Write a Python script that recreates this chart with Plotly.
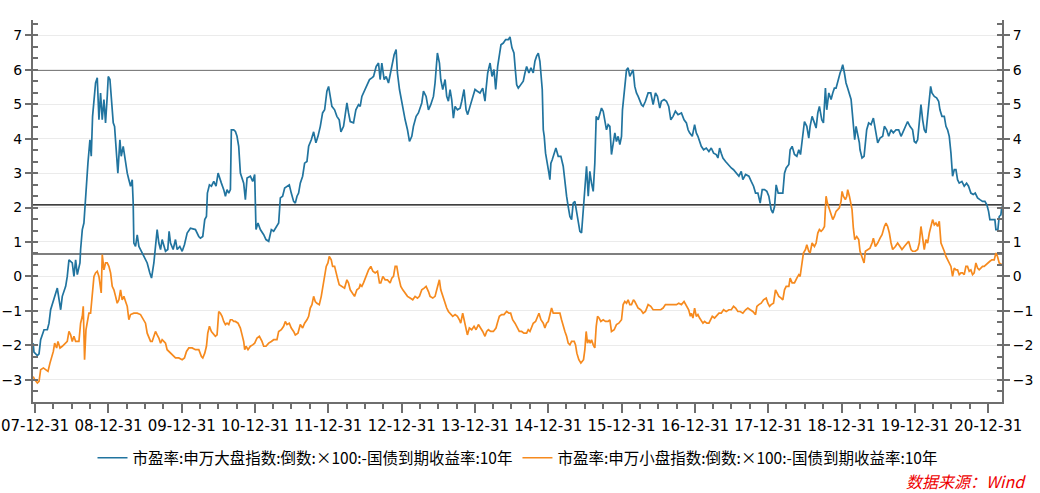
import pandas as pd
import plotly.graph_objects as go

# (decimal year where 2008.0 == 2007-12-31, value)
large_cap = [
(2007.975,-1.94),(2007.986,-2.2),(2008.032,-2.3),(2008.055,-2.25),(2008.077,-1.84),(2008.123,-1.55),(2008.168,-1.55),(2008.191,-1.36),(2008.213,-0.97),(2008.259,-0.68),(2008.304,-0.34),(2008.350,-0.97),(2008.372,-0.58),(2008.418,-0.29),(2008.440,0.0),(2008.463,0.48),(2008.508,0.39),(2008.531,0.0),(2008.554,0.48),(2008.577,0.05),(2008.613,0.39),(2008.622,0.78),(2008.645,1.36),(2008.667,1.55),(2008.681,2.08),(2008.699,2.76),(2008.722,3.3),(2008.749,3.97),(2008.767,3.49),(2008.785,4.65),(2008.804,5.04),(2008.826,5.62),(2008.849,5.77),(2008.872,4.55),(2008.894,5.33),(2008.917,4.55),(2008.940,5.14),(2008.962,4.46),(2008.985,5.23),(2008.999,5.81),(2009.022,5.72),(2009.044,5.14),(2009.067,4.46),(2009.085,4.36),(2009.112,3.49),(2009.130,3.0),(2009.158,3.97),(2009.176,3.49),(2009.203,3.78),(2009.235,3.29),(2009.258,3.0),(2009.280,2.81),(2009.303,2.62),(2009.326,2.81),(2009.339,2.13),(2009.348,0.97),(2009.371,0.87),(2009.394,1.21),(2009.417,0.87),(2009.439,0.78),(2009.485,0.58),(2009.530,0.39),(2009.566,0.1),(2009.589,-0.05),(2009.621,0.39),(2009.643,0.78),(2009.666,1.36),(2009.689,0.97),(2009.712,0.78),(2009.734,1.07),(2009.757,0.92),(2009.780,0.73),(2009.811,0.78),(2009.829,1.31),(2009.848,0.97),(2009.884,0.78),(2009.916,1.07),(2009.939,0.78),(2009.975,0.87),(2010.007,0.73),(2010.038,0.92),(2010.075,1.26),(2010.120,1.4),(2010.166,1.36),
(2010.188,1.36),(2010.233,1.16),(2010.256,1.11),(2010.288,1.16),(2010.315,1.65),(2010.338,1.74),(2010.351,2.42),(2010.379,2.66),(2010.406,2.62),(2010.438,2.76),(2010.469,2.62),(2010.497,3.0),(2010.515,2.86),(2010.542,2.71),(2010.574,2.52),(2010.597,2.33),(2010.619,2.52),(2010.642,2.42),(2010.665,2.52),(2010.678,4.26),(2010.710,4.26),(2010.733,4.21),(2010.755,4.07),(2010.778,3.78),(2010.801,3.0),(2010.824,2.86),(2010.846,2.71),(2010.869,2.23),(2010.892,2.86),(2010.937,2.91),(2010.969,2.76),(2010.996,2.96),(2011.014,1.36),(2011.041,1.55),(2011.073,1.36),(2011.119,1.21),(2011.150,1.07),(2011.187,1.02),(2011.223,1.36),(2011.255,1.31),(2011.300,1.45),(2011.323,1.55),(2011.346,2.28),(2011.377,2.33),(2011.405,2.57),(2011.436,2.62),(2011.468,2.66),(2011.495,2.42),(2011.527,2.18),(2011.550,2.13),(2011.573,2.33),(2011.595,2.42),(2011.618,2.71),(2011.650,2.91),(2011.677,3.29),(2011.709,3.34),(2011.732,3.78),(2011.768,3.97),(2011.800,4.2),(2011.831,3.88),(2011.859,4.07),(2011.891,4.36),(2011.922,4.75),(2011.950,4.84),(2011.981,5.38),(2012.004,5.52),(2012.027,5.14),(2012.049,4.94),(2012.086,4.84),(2012.117,4.65),(2012.149,4.55),(2012.172,4.2),(2012.208,4.36),(2012.231,4.65),(2012.254,5.04),(2012.276,4.75),(2012.299,4.5),(2012.344,4.46),(2012.376,4.84),(2012.412,4.99),
(2012.435,4.94),(2012.458,5.23),(2012.489,5.38),(2012.526,5.52),(2012.562,5.72),(2012.594,5.77),(2012.617,5.81),(2012.653,6.1),(2012.685,6.2),(2012.707,5.72),(2012.730,6.2),(2012.762,5.72),(2012.789,5.81),(2012.821,5.62),(2012.853,5.96),(2012.880,6.25),(2012.898,6.44),(2012.925,6.59),(2012.943,5.91),(2012.971,5.43),(2012.989,5.23),(2013.016,4.84),(2013.048,4.55),(2013.080,4.26),(2013.107,3.92),(2013.139,4.07),(2013.161,4.36),(2013.198,4.65),(2013.229,4.75),(2013.275,5.04),(2013.298,5.38),(2013.334,5.23),(2013.366,4.84),(2013.397,4.99),(2013.434,5.23),(2013.456,5.62),(2013.488,6.49),(2013.516,6.2),(2013.534,5.72),(2013.561,5.43),(2013.593,5.72),(2013.615,5.23),(2013.638,5.09),(2013.661,5.43),(2013.683,5.14),(2013.706,4.6),(2013.729,4.94),(2013.761,4.84),(2013.797,4.89),(2013.820,5.09),(2013.851,5.43),(2013.879,4.84),(2013.901,4.7),(2013.933,4.94),(2013.969,5.23),(2014.001,5.43),(2014.033,5.38),(2014.069,5.33),(2014.106,5.47),(2014.137,5.09),(2014.151,5.43),(2014.174,5.91),(2014.206,6.2),(2014.233,5.81),(2014.260,6.01),(2014.283,5.43),(2014.310,6.1),(2014.333,6.4),(2014.355,6.73),(2014.387,6.78),(2014.419,6.88),(2014.455,6.88),(2014.478,6.96),(2014.505,6.64),(2014.532,6.49),(2014.551,6.0),(2014.569,5.57),(2014.591,5.47),(2014.623,5.57),(2014.659,5.67),(2014.682,5.91),
(2014.705,6.1),(2014.736,5.91),(2014.764,6.06),(2014.795,5.91),(2014.818,6.25),(2014.841,6.4),(2014.864,6.49),(2014.886,6.25),(2014.900,5.96),(2014.918,5.43),(2014.932,4.26),(2014.945,4.07),(2014.963,3.58),(2014.991,3.29),(2015.009,3.0),(2015.022,2.81),(2015.036,3.29),(2015.054,3.39),(2015.082,3.58),(2015.104,3.73),(2015.136,3.49),(2015.172,3.49),(2015.204,3.2),(2015.227,2.71),(2015.250,2.33),(2015.272,2.03),(2015.295,1.74),(2015.318,1.65),(2015.340,2.13),(2015.363,2.18),(2015.386,1.89),(2015.408,1.6),(2015.431,1.31),(2015.454,1.26),(2015.477,1.94),(2015.499,2.33),(2015.522,3.2),(2015.545,2.33),(2015.567,3.05),(2015.590,2.71),(2015.613,2.47),(2015.635,3.29),(2015.654,4.65),(2015.681,4.55),(2015.703,4.75),(2015.726,4.89),(2015.749,4.8),(2015.772,4.46),(2015.794,4.26),(2015.817,4.41),(2015.840,4.36),(2015.862,3.54),(2015.885,3.88),(2015.908,4.17),(2015.930,3.92),(2015.953,4.07),(2015.976,3.83),(2015.999,4.07),(2016.012,4.84),(2016.030,5.23),(2016.044,5.52),(2016.067,6.0),(2016.089,6.06),(2016.112,5.81),(2016.135,5.91),(2016.157,6.0),(2016.180,5.52),(2016.203,5.33),(2016.226,5.23),(2016.248,5.09),(2016.271,4.99),(2016.294,4.94),(2016.325,5.09),(2016.362,5.33),(2016.398,5.33),(2016.430,4.99),(2016.462,5.33),(2016.489,5.23),(2016.521,4.89),(2016.543,5.09),(2016.580,5.14),(2016.612,5.09),(2016.643,4.94),(2016.671,4.55),(2016.702,4.65),(2016.734,4.8),(2016.770,4.7),(2016.816,4.75),(2016.852,4.55),(2016.884,4.46),(2016.907,4.26),
(2016.928,4.17),(2016.964,4.07),(2016.996,4.41),(2017.019,4.17),(2017.041,4.07),(2017.064,3.92),(2017.087,3.78),(2017.119,3.68),(2017.155,3.73),(2017.191,3.63),(2017.223,3.73),(2017.255,3.58),(2017.291,3.54),(2017.314,3.44),(2017.337,3.73),(2017.359,3.58),(2017.382,3.44),(2017.418,3.34),(2017.450,3.25),(2017.496,3.15),(2017.527,3.1),(2017.564,3.0),(2017.600,2.91),(2017.632,3.05),(2017.654,2.81),(2017.691,2.96),(2017.736,2.91),(2017.768,2.76),(2017.800,2.62),(2017.827,2.42),(2017.859,2.42),(2017.890,2.13),(2017.918,2.52),(2017.949,2.52),(2017.981,2.47),(2018.008,2.33),(2018.040,1.94),(2018.063,1.84),(2018.086,2.03),(2018.108,2.66),(2018.136,2.42),(2018.163,2.42),(2018.199,2.42),(2018.222,3.0),(2018.245,3.15),(2018.281,3.25),(2018.299,3.68),(2018.326,3.78),(2018.358,3.54),(2018.390,3.49),(2018.417,3.68),(2018.440,3.54),(2018.462,3.97),(2018.494,4.5),(2018.526,4.36),(2018.553,4.02),(2018.571,4.36),(2018.598,4.65),(2018.630,4.46),(2018.653,4.31),(2018.676,4.75),(2018.698,4.94),(2018.730,4.55),(2018.753,4.46),(2018.780,5.47),(2018.798,4.84),(2018.826,5.33),(2018.857,5.14),(2018.880,5.33),(2018.902,5.47),(2018.925,5.47),(2018.957,5.77),(2018.980,5.91),(2018.998,6.01),(2019.016,6.15),(2019.039,5.91),(2019.061,5.62),(2019.084,5.47),(2019.107,5.33),(2019.130,5.14),(2019.143,4.84),(2019.161,4.26),(2019.179,3.97),(2019.198,4.36),(2019.220,4.17),(2019.243,3.88),
(2019.252,3.68),(2019.279,3.44),(2019.307,3.49),(2019.325,3.97),(2019.343,4.26),(2019.370,4.46),(2019.402,4.41),(2019.434,4.6),(2019.461,4.26),(2019.493,3.88),(2019.525,4.02),(2019.561,4.07),(2019.584,4.36),(2019.615,4.26),(2019.643,4.07),(2019.675,4.26),(2019.706,4.17),(2019.743,4.26),(2019.779,4.26),(2019.811,4.07),(2019.833,4.17),(2019.870,4.36),(2019.901,4.5),(2019.933,4.36),(2019.969,4.26),(2019.992,3.92),(2020.015,3.88),(2020.038,3.97),(2020.060,4.46),(2020.083,4.99),(2020.106,4.55),(2020.128,4.26),(2020.151,4.17),(2020.174,4.65),(2020.197,4.99),(2020.215,5.52),(2020.233,5.33),(2020.265,5.23),(2020.296,5.19),(2020.324,5.09),(2020.342,4.84),(2020.369,4.65),(2020.401,4.65),(2020.424,4.36),(2020.446,4.26),(2020.469,4.07),(2020.492,3.58),(2020.514,2.91),(2020.537,3.1),(2020.560,3.1),(2020.582,2.81),(2020.605,2.71),(2020.641,2.76),(2020.673,2.62),(2020.705,2.71),(2020.732,2.62),(2020.764,2.42),(2020.796,2.38),(2020.823,2.42),(2020.855,2.28),(2020.887,2.23),(2020.923,2.18),(2020.955,2.18),(2020.982,2.08),(2021.005,1.89),(2021.023,1.65),(2021.050,1.65),(2021.068,1.65),(2021.091,1.65),(2021.105,1.36),(2021.132,1.36),(2021.150,1.74),(2021.173,1.79),(2021.186,2.03),
]

small_cap = [
(2007.975,-2.91),(2007.996,-3.0),(2008.032,-3.1),(2008.055,-3.05),(2008.077,-2.71),(2008.114,-2.66),(2008.145,-2.71),(2008.177,-2.76),(2008.204,-2.52),(2008.227,-2.37),(2008.250,-2.18),(2008.268,-1.94),(2008.295,-2.08),(2008.313,-1.89),(2008.341,-2.08),(2008.372,-2.03),(2008.395,-1.99),(2008.418,-1.94),(2008.440,-1.89),(2008.463,-1.6),(2008.486,-1.7),(2008.508,-1.89),(2008.531,-1.74),(2008.554,-1.89),(2008.599,-1.89),(2008.622,-1.36),(2008.645,-1.16),(2008.658,-0.87),(2008.676,-2.42),(2008.695,-1.55),(2008.713,-1.36),(2008.735,-1.07),(2008.758,-1.07),(2008.781,-0.58),(2008.804,0.0),(2008.826,0.1),(2008.849,0.15),(2008.872,0.0),(2008.894,-0.39),(2008.903,-0.48),(2008.917,0.63),(2008.940,0.19),(2008.962,0.39),(2008.985,0.39),(2009.008,0.29),(2009.031,0.1),(2009.053,-0.29),(2009.076,-0.39),(2009.099,-0.58),(2009.121,-0.78),(2009.144,-0.68),(2009.167,-0.39),(2009.189,-0.68),(2009.212,-0.58),(2009.235,-0.73),(2009.258,-0.87),(2009.280,-1.26),(2009.303,-1.11),(2009.348,-1.07),(2009.394,-1.07),(2009.439,-1.11),(2009.485,-1.26),(2009.507,-1.36),(2009.530,-1.65),(2009.553,-1.79),(2009.576,-1.89),(2009.598,-1.89),(2009.621,-1.74),(2009.643,-1.6),(2009.666,-1.7),(2009.689,-1.79),(2009.712,-1.94),(2009.734,-1.84),(2009.757,-1.89),(2009.780,-1.94),(2009.802,-2.13),(2009.848,-2.23),(2009.884,-2.28),(2009.916,-2.37),(2009.961,-2.37),(2010.007,-2.42),(2010.038,-2.37),(2010.066,-2.18),(2010.098,-2.08),(2010.143,-2.08),(2010.188,-2.13),(2010.234,-2.13),
(2010.270,-2.33),(2010.288,-2.37),(2010.315,-2.23),(2010.338,-2.03),(2010.356,-1.65),(2010.379,-1.45),(2010.406,-1.6),(2010.438,-1.7),(2010.460,-1.74),(2010.483,-1.7),(2010.506,-1.02),(2010.528,-1.07),(2010.551,-1.16),(2010.574,-1.31),(2010.597,-1.4),(2010.619,-1.36),(2010.642,-1.4),(2010.665,-1.26),(2010.687,-1.26),(2010.710,-1.31),(2010.733,-1.31),(2010.769,-1.36),(2010.801,-1.5),(2010.824,-1.7),(2010.846,-1.89),(2010.860,-2.13),(2010.878,-2.03),(2010.905,-2.13),(2010.937,-2.03),(2010.969,-1.99),(2010.996,-1.94),(2011.028,-1.79),(2011.060,-1.74),(2011.096,-1.89),(2011.119,-2.03),(2011.150,-2.03),(2011.187,-1.94),(2011.223,-1.89),(2011.255,-1.84),(2011.300,-1.84),(2011.323,-1.6),(2011.359,-1.55),(2011.391,-1.45),(2011.414,-1.31),(2011.436,-1.4),(2011.468,-1.36),(2011.495,-1.5),(2011.527,-1.6),(2011.550,-1.7),(2011.586,-1.65),(2011.618,-1.4),(2011.650,-1.5),(2011.677,-1.36),(2011.709,-1.26),(2011.732,-1.16),(2011.754,-0.92),(2011.777,-0.82),(2011.800,-0.58),(2011.822,-0.73),(2011.845,-0.78),(2011.877,-0.82),(2011.904,-0.58),(2011.927,-0.29),(2011.950,0.1),(2011.972,0.29),(2011.995,0.39),(2012.013,0.58),(2012.040,0.48),(2012.059,0.29),(2012.086,0.29),(2012.104,0.1),(2012.131,-0.1),(2012.149,-0.24),(2012.186,-0.29),(2012.222,-0.34),(2012.254,-0.1),(2012.276,-0.19),(2012.299,-0.39),(2012.331,-0.48),(2012.358,-0.58),(2012.390,-0.39),(2012.421,-0.34),
(2012.435,-0.24),(2012.458,-0.29),(2012.480,-0.19),(2012.517,0.05),(2012.549,0.19),(2012.580,0.29),(2012.608,0.15),(2012.639,0.1),(2012.671,0.15),(2012.698,-0.19),(2012.716,-0.19),(2012.744,0.0),(2012.775,-0.1),(2012.807,-0.1),(2012.843,-0.19),(2012.866,-0.05),(2012.889,0.0),(2012.912,0.29),(2012.934,0.29),(2012.957,0.0),(2012.989,-0.29),(2013.016,-0.39),(2013.048,-0.48),(2013.080,-0.58),(2013.116,-0.63),(2013.152,-0.68),(2013.184,-0.58),(2013.216,-0.63),(2013.243,-0.58),(2013.275,-0.39),(2013.307,-0.34),(2013.334,-0.29),(2013.366,-0.44),(2013.388,-0.58),(2013.425,-0.63),(2013.456,-0.58),(2013.479,-0.39),(2013.502,-0.19),(2013.515,-0.1),(2013.534,-0.39),(2013.561,-0.58),(2013.593,-0.78),(2013.615,-0.92),(2013.638,-1.02),(2013.661,-1.07),(2013.697,-1.16),(2013.729,-1.11),(2013.761,-1.16),(2013.788,-1.26),(2013.806,-1.36),(2013.833,-1.07),(2013.851,-1.26),(2013.879,-1.55),(2013.897,-1.7),(2013.924,-1.5),(2013.956,-1.55),(2013.988,-1.45),(2014.015,-1.55),(2014.047,-1.4),(2014.078,-1.5),(2014.106,-1.6),(2014.137,-1.74),(2014.160,-1.6),(2014.183,-1.55),(2014.215,-1.6),(2014.251,-1.6),(2014.287,-1.5),(2014.305,-1.36),(2014.333,-1.16),(2014.364,-1.11),(2014.396,-1.11),(2014.432,-1.02),(2014.464,-1.07),(2014.487,-1.07),(2014.514,-1.26),(2014.546,-1.36),(2014.578,-1.5),(2014.605,-1.6),(2014.637,-1.6),(2014.668,-1.65),
(2014.705,-1.65),(2014.727,-1.55),(2014.750,-1.6),(2014.773,-1.45),(2014.795,-1.36),(2014.827,-1.31),(2014.855,-1.16),(2014.873,-1.07),(2014.900,-1.26),(2014.932,-1.36),(2014.954,-1.5),(2014.977,-1.36),(2015.000,-1.31),(2015.022,-1.07),(2015.045,-0.92),(2015.068,-1.07),(2015.100,-1.07),(2015.136,-1.07),(2015.159,-1.07),(2015.181,-1.26),(2015.204,-1.45),(2015.227,-1.6),(2015.250,-1.74),(2015.272,-1.94),(2015.295,-1.99),(2015.318,-1.89),(2015.354,-1.89),(2015.372,-1.99),(2015.390,-2.23),(2015.417,-2.42),(2015.445,-2.52),(2015.463,-2.47),(2015.481,-2.42),(2015.499,-2.13),(2015.517,-1.6),(2015.535,-1.94),(2015.554,-1.84),(2015.572,-1.94),(2015.590,-1.84),(2015.613,-1.99),(2015.635,-2.08),(2015.654,-1.45),(2015.672,-1.16),(2015.690,-1.2),(2015.717,-1.31),(2015.749,-1.26),(2015.781,-1.31),(2015.817,-1.31),(2015.840,-1.26),(2015.862,-1.6),(2015.899,-1.55),(2015.930,-1.4),(2015.962,-1.36),(2015.999,-1.26),(2016.021,-0.82),(2016.044,-0.73),(2016.067,-0.78),(2016.089,-0.68),(2016.112,-0.82),(2016.135,-0.82),(2016.162,-0.68),(2016.180,-0.73),(2016.203,-0.82),(2016.226,-0.92),(2016.262,-0.97),(2016.294,-1.07),(2016.325,-1.02),(2016.362,-0.82),(2016.398,-0.87),(2016.430,-0.97),(2016.462,-0.97),(2016.498,-0.97),(2016.534,-0.97),(2016.566,-0.92),(2016.598,-0.82),(2016.634,-0.82),(2016.679,-0.82),(2016.716,-0.82),(2016.748,-0.82),(2016.779,-0.78),(2016.816,-0.82),(2016.852,-0.73),(2016.884,-0.87),(2016.915,-0.97),(2016.938,-1.16),
(2016.951,-1.07),(2016.973,-1.21),(2016.996,-0.92),(2017.019,-1.16),(2017.041,-1.11),(2017.064,-1.21),(2017.087,-1.31),(2017.110,-1.36),(2017.132,-1.31),(2017.164,-1.36),(2017.191,-1.36),(2017.209,-1.26),(2017.237,-1.16),(2017.268,-1.21),(2017.291,-1.16),(2017.328,-1.07),(2017.359,-1.07),(2017.391,-0.97),(2017.427,-1.02),(2017.464,-0.97),(2017.496,-0.97),(2017.527,-0.87),(2017.555,-0.92),(2017.586,-1.02),(2017.618,-1.02),(2017.654,-1.07),(2017.691,-0.97),(2017.722,-0.92),(2017.754,-0.97),(2017.790,-1.02),(2017.827,-1.11),(2017.845,-0.87),(2017.872,-0.82),(2017.904,-0.78),(2017.936,-0.68),(2017.972,-0.63),(2017.995,-0.78),(2018.018,-0.87),(2018.040,-0.82),(2018.072,-0.78),(2018.099,-0.39),(2018.117,-0.48),(2018.145,-0.58),(2018.176,-0.63),(2018.199,-0.68),(2018.222,-0.39),(2018.245,-0.29),(2018.281,-0.29),(2018.299,-0.05),(2018.326,-0.19),(2018.358,-0.19),(2018.390,-0.05),(2018.417,0.05),(2018.435,0.0),(2018.462,0.39),(2018.480,0.68),(2018.508,0.78),(2018.526,0.92),(2018.553,0.73),(2018.571,0.68),(2018.598,0.97),(2018.630,0.87),(2018.653,0.97),(2018.676,1.26),(2018.698,1.36),(2018.721,1.31),(2018.744,1.36),(2018.767,1.45),(2018.780,1.99),(2018.789,2.33),(2018.807,2.13),(2018.835,1.94),(2018.857,1.84),(2018.880,1.65),(2018.902,1.74),(2018.925,1.89),(2018.948,1.94),(2018.970,1.99),(2018.993,2.18),(2019.007,2.47),(2019.025,2.33),(2019.052,2.23),(2019.071,2.33),(2019.084,2.52),(2019.107,2.33),
(2019.130,2.13),(2019.143,1.94),(2019.161,1.4),(2019.180,1.07),(2019.207,1.16),(2019.234,1.07),(2019.252,0.73),(2019.279,0.58),(2019.307,0.39),(2019.325,0.73),(2019.357,0.78),(2019.388,0.82),(2019.416,0.97),(2019.434,1.11),(2019.461,0.87),(2019.493,0.97),(2019.525,1.11),(2019.552,1.21),(2019.584,1.45),(2019.606,1.55),(2019.629,1.45),(2019.652,1.26),(2019.675,0.97),(2019.697,0.78),(2019.734,0.87),(2019.765,0.97),(2019.797,0.87),(2019.824,0.78),(2019.856,0.87),(2019.888,0.97),(2019.915,1.02),(2019.947,0.78),(2019.969,0.73),(2020.006,0.73),(2020.038,0.78),(2020.060,0.97),(2020.083,1.45),(2020.106,1.11),(2020.128,0.78),(2020.151,1.07),(2020.174,0.97),(2020.197,1.26),(2020.219,1.5),(2020.242,1.65),(2020.265,1.5),(2020.287,1.55),(2020.310,1.45),(2020.333,1.6),(2020.356,0.97),(2020.378,0.82),(2020.401,0.73),(2020.424,0.58),(2020.446,0.48),(2020.469,0.39),(2020.492,0.29),(2020.514,0.0),(2020.537,0.24),(2020.560,0.19),(2020.582,0.19),(2020.605,0.05),(2020.628,0.1),(2020.650,0.1),(2020.673,0.05),(2020.696,0.29),(2020.718,0.29),(2020.741,0.15),(2020.764,0.19),(2020.787,0.05),(2020.809,0.1),(2020.832,0.39),(2020.855,0.24),(2020.877,0.19),(2020.900,0.24),(2020.923,0.29),(2020.945,0.29),(2020.968,0.34),(2020.991,0.39),(2021.023,0.44),(2021.050,0.48),(2021.082,0.48),(2021.105,0.68),(2021.127,0.58),(2021.150,0.39),(2021.173,0.34),(2021.186,0.34),
]

series_names = [
    "市盈率:申万大盘指数:倒数:×100:-国债到期收益率:10年",
    "市盈率:申万小盘指数:倒数:×100:-国债到期收益率:10年",
]
reference_levels = [6.0, 2.08, 0.65]
source_text = "数据来源：Wind"

BASE = pd.Timestamp("2007-12-31")

def to_dates(pairs):
    t = [p[0] for p in pairs]
    v = [p[1] for p in pairs]
    d = [BASE + pd.Timedelta(days=(x - 2008.0) * 365.25) for x in t]
    return d, v

colors = ["#21749f", "#f68a1e"]

fig = go.Figure()
for pairs, name, c in zip([large_cap, small_cap], series_names, colors):
    d, v = to_dates(pairs)
    fig.add_trace(go.Scatter(x=d, y=v, mode="lines", name=name,
                             line=dict(color=c, width=1.7)))

for lv in reference_levels:
    fig.add_shape(type="line", xref="paper", x0=0, x1=1, yref="y", y0=lv, y1=lv,
                  line=dict(color="black", width=1.2), layer="below")

axis_col = "#6e6e6e"
yrange = [-3.65, 7.45]
ycommon = dict(range=yrange, dtick=1, tick0=0, showline=True, linecolor=axis_col,
               linewidth=2, ticks="outside", ticklen=6, tickwidth=2, tickcolor=axis_col,
               zeroline=False, automargin=False,
               tickfont=dict(family="DejaVu Sans", size=14, color="black"),
               minor=dict(dtick=1/3, tick0=0, ticks="inside", ticklen=5, tickwidth=2,
                          tickcolor=axis_col, showgrid=False))

fig.update_layout(
    width=1040, height=493,
    margin=dict(l=33, r=38, t=20, b=91, autoexpand=False),
    plot_bgcolor="white", paper_bgcolor="white",
    showlegend=True,
    legend=dict(orientation="h", x=0.5, xanchor="center", y=-0.147, yanchor="middle",
                font=dict(family="Noto Sans CJK SC", size=15.5, color="black"),
                itemwidth=30),
    xaxis=dict(type="date", range=["2007-12-21", "2021-03-09"], tickformat="%y-%m-%d",
               tick0="2007-12-31", dtick="M12", showgrid=False, showline=True,
               linecolor=axis_col, linewidth=2, ticks="outside", ticklen=9, tickwidth=2,
               tickcolor=axis_col, zeroline=False, automargin=False,
               tickfont=dict(family="DejaVu Sans", size=15, color="black"),
               minor=dict(dtick="M3", tick0="2007-12-31", ticks="outside", ticklen=5,
                          tickwidth=2, tickcolor=axis_col, showgrid=False)),
    yaxis=dict(**ycommon, showgrid=True, gridcolor="#ebebeb", gridwidth=1, side="left"),
    yaxis2=dict(**ycommon, showgrid=False, side="right", overlaying="y", anchor="x"),
)
# invisible trace to carry the right axis
d0, v0 = to_dates(large_cap)
fig.add_trace(go.Scatter(x=d0, y=v0, yaxis="y2", mode="lines", line=dict(width=0),
                         opacity=0, showlegend=False, hoverinfo="skip"))

fig.add_annotation(text="<i>" + source_text + "</i>", xref="paper", yref="paper",
                   x=1.027, y=-0.207, xanchor="right", yanchor="middle", showarrow=False,
                   font=dict(family="Noto Sans CJK SC", size=16, color="#ee0000"))

fig.write_html("out.html", config={"displayModeBar": False},
               post_script="document.body.style.margin='0';document.body.style.overflow='hidden';")
